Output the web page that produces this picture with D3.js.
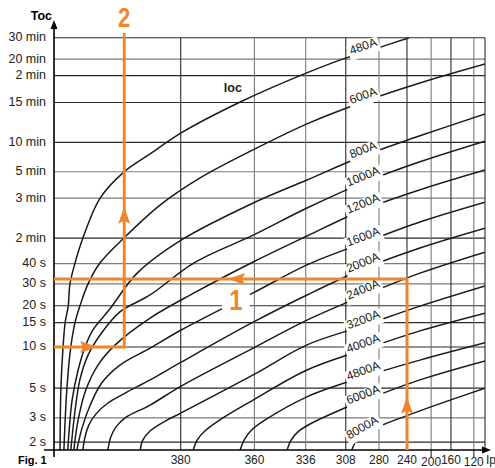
<!DOCTYPE html>
<html><head><meta charset="utf-8">
<script src="https://cdn.jsdelivr.net/npm/d3@7"></script>
<style>body{margin:0;background:#fff}svg{display:block;font-family:"Liberation Sans",Arial,Helvetica,sans-serif}</style>
</head><body>
<svg id="c" width="495" height="468"></svg>
<script>
// ---------- DATA (chart units: 0-100 on each axis) ----------
const yTickLabels = ["2 s","3 s","5 s","10 s","15 s","20 s","30 s","40 s","2 min","3 min","5 min","10 min","15 min","2 min","20 min","30 min"];
const yTickValues = [1.9,7.8,15.0,25.0,30.9,35.0,40.3,45.2,51.4,61.1,67.5,74.6,84.3,90.8,94.8,100];
const xTickLabels = ["380","360","336","308","280","240","200","160","120"];
const xTickValues = [29.4,46.5,58.4,67.7,75.4,81.9,87.5,92.1,97.4];
const curveLabels = ["480A","600A","800A","1000A","1200A","1600A","2000A","2400A","3200A","4000A","4800A","6000A","8000A"];
const c480  = [[1.4,0],[1.6,15.0],[2.1,25.0],[2.6,31.0],[3.3,34.9],[3.7,40.3],[4.9,45.4],[6.7,51.4],[10.7,61.1],[16.2,67.4],[22.3,71.8],[29.5,76.9],[43.2,84.4],[58.5,91.4],[67.8,95.1],[75.4,97.6],[82.4,100]];
const c600  = [[2.3,0],[3.0,15.0],[3.9,25.0],[4.9,31.0],[6.0,34.9],[7.9,40.3],[10.7,45.4],[16.2,51.4],[24.6,59.4],[33.9,66.0],[46.2,72.8],[58.7,79.1],[71.7,84.4],[84.9,89.0],[100,93.6]];
const c800  = [[3.2,0],[4.2,12.1],[5.6,19.4],[7.2,25.0],[9.0,29.1],[12.8,34.0],[19.3,42.9],[29.5,50.9],[46.2,59.9],[58.7,65.5],[71.7,71.3],[84.9,76.2],[100,81.5]];
const c1000 = [[3.9,0],[4.9,9.7],[6.0,17.0],[7.9,23.0],[10.7,27.9],[15.3,33.5],[22.3,37.6],[32.5,45.4],[46.2,52.1],[58.7,58.7],[71.7,64.8],[84.9,69.9],[100,74.9]];
const c1200 = [[4.6,0],[5.6,7.3],[7.4,14.6],[10.2,20.6],[14.2,25.5],[22.3,32.0],[32.5,38.1],[46.2,45.6],[58.7,51.9],[71.7,58.2],[84.9,63.1],[100,67.9]];
const c1600 = [[5.3,0],[6.5,5.3],[8.4,10.9],[11.1,16.3],[15.3,20.6],[22.3,24.7],[29.5,29.1],[46.2,38.1],[58.7,44.9],[71.7,50.2],[84.9,55.3],[100,60.1]];
const c2000 = [[6.7,0],[7.2,3.2],[8.1,6.1],[9.7,8.7],[12.5,11.4],[16.5,13.8],[22.3,17.0],[29.5,21.3],[46.2,31.0],[58.7,37.6],[71.7,43.9],[84.9,49.0],[100,53.8]];
const c2400 = [[12.5,0],[13.2,3.2],[14.4,5.6],[16.5,7.8],[22.3,10.9],[29.5,15.5],[46.2,24.7],[58.7,31.5],[71.7,37.4],[84.9,42.9],[100,48.0]];
const c3200 = [[20.0,0],[20.6,2.4],[22.3,4.6],[25.8,7.0],[29.5,9.0],[46.2,18.2],[58.7,25.5],[71.7,30.1],[84.9,34.9],[100,39.8]];
const c4000 = [[32.3,0],[33.2,2.4],[35.0,4.6],[38.5,7.3],[46.2,12.1],[58.7,19.4],[71.7,24.3],[84.9,28.9],[100,33.2]];
const c4800 = [[43.2,0],[44.1,2.4],[45.9,4.9],[49.0,7.3],[58.7,12.9],[71.7,17.7],[84.9,21.8],[100,26.0]];
const c6000 = [[54.1,0],[55.0,2.4],[56.6,4.4],[59.4,6.3],[66.4,9.7],[71.7,11.9],[84.9,17.0],[100,21.6]];
const c8000 = [[69.1,0],[70.1,2.2],[71.7,3.9],[76.3,6.1],[84.9,9.5],[91.9,12.1],[100,15.0]];
const curves = [c480,c600,c800,c1000,c1200,c1600,c2000,c2400,c3200,c4000,c4800,c6000,c8000];
// orange reading paths
const path1 = [[81.9,0],[81.9,41.5],[0,41.5]];
const path2 = [[0,25.0],[16.3,25.0],[16.3,101.9]];
const arrows = [{p:[81.9,12.9],dir:"up"},{p:[40.4,41.5],dir:"left"},{p:[10.0,25.0],dir:"right"},{p:[16.3,59.0],dir:"up"}];

// ---------- DRAWING ----------
const svg = d3.select("#c");
const x = d3.scaleLinear().domain([0,100]).range([54,485]);
const y = d3.scaleLinear().domain([0,100]).range([450,37.7]);
const ORANGE = "#f0862c";
const grayY = new Set(["20 min","3 min","5 min","40 s","30 s","3 s"]);
const grayX = new Set(["360","336","280","200","120"]);

svg.append("defs").append("clipPath").attr("id","plot").append("rect")
  .attr("x",x(0)).attr("y",y(100)).attr("width",x(100)-x(0)).attr("height",y(0)-y(100));

// grid
const grid = svg.append("g").attr("stroke-width",1.1);
grid.selectAll("line.h").data(yTickValues).join("line").attr("class","h")
  .attr("stroke",(d,i)=>grayY.has(yTickLabels[i])?"#7a7a7a":"#2a2a2a")
  .attr("x1",x(0)).attr("x2",x(100)).attr("y1",d=>y(d)).attr("y2",d=>y(d));
grid.selectAll("line.v").data(xTickValues.concat([100])).join("line").attr("class","v")
  .attr("stroke",(d,i)=>grayX.has(xTickLabels[i])?"#7a7a7a":"#2a2a2a")
  .attr("x1",d=>x(d)).attr("x2",d=>x(d)).attr("y1",y(100)).attr("y2",y(0));
const lowered = new Set(["200","120"]);
grid.selectAll("line.t").data(xTickValues.filter((d,i)=>lowered.has(xTickLabels[i]))).join("line").attr("class","t")
  .attr("stroke","#2a2a2a")
  .attr("x1",d=>x(d)).attr("x2",d=>x(d)).attr("y1",y(0)).attr("y2",y(0)+7);

// curves
const line = d3.line().x(d=>x(d[0])).y(d=>y(d[1])).curve(d3.curveCatmullRom.alpha(0.5));
const gc = svg.append("g").attr("clip-path","url(#plot)");
const paths = curves.map(c => gc.append("path").datum(c).attr("d",line)
  .attr("fill","none").attr("stroke","#1a1a1a").attr("stroke-width",1.5).node());

// curve labels
const labelAt = x(72.2);
const gl = svg.append("g");
paths.forEach((node,i)=>{
  const L = node.getTotalLength();
  let lo=0, hi=L;
  for(let k=0;k<40;k++){const m=(lo+hi)/2; if(node.getPointAtLength(m).x<labelAt) lo=m; else hi=m;}
  const p = node.getPointAtLength(lo);
  const a = node.getPointAtLength(Math.max(0,lo-6)), b = node.getPointAtLength(Math.min(L,lo+6));
  let ang = Math.atan2(b.y-a.y,b.x-a.x)*180/Math.PI;
  ang = Math.max(-30, Math.min(-20, ang));
  const g = gl.append("g").attr("transform",`translate(${p.x},${p.y}) rotate(${ang})`);
  const r = g.append("rect").attr("fill","#fff");
  const t = g.append("text").attr("text-anchor","middle").attr("y",-2)
    .attr("font-size",12).attr("fill","#1a1a1a").text(curveLabels[i]);
  const w = t.node().getComputedTextLength();
  r.attr("x",-w/2-2).attr("y",-11).attr("width",w+4).attr("height",15);
});

// axes
const ax = svg.append("g").attr("stroke","#000").attr("stroke-width",1.6);
ax.append("line").attr("x1",x(0)).attr("x2",x(0)).attr("y1",y(0)+7).attr("y2",24);
ax.append("line").attr("x1",x(0)-10).attr("x2",x(100)+2).attr("y1",y(0)).attr("y2",y(0));
svg.append("path").attr("d",`M${x(0)},20 L${x(0)-3.5},29 L${x(0)+3.5},29 Z`).attr("fill","#000");
svg.append("path").attr("d",`M${x(100)+6},${y(0)} L${x(100)-3},${y(0)-3.5} L${x(100)-3},${y(0)+3.5} Z`).attr("fill","#000");

// y tick labels
svg.append("g").selectAll("text").data(yTickValues).join("text")
  .attr("x",x(0)-8).attr("y",d=>y(d)+3.5).attr("text-anchor","end")
  .attr("font-size",12.5).attr("fill","#222").text((d,i)=>yTickLabels[i]);
// x tick labels
svg.append("g").selectAll("text").data(xTickValues).join("text")
  .attr("x",d=>x(d)).attr("y",(d,i)=>lowered.has(xTickLabels[i])?y(0)+15.5:y(0)+13.5)
  .attr("text-anchor","middle").attr("font-size",12).attr("fill","#222").text((d,i)=>xTickLabels[i]);

svg.append("text").attr("x",52).attr("y",20).attr("text-anchor","end").attr("font-size",12.5)
  .attr("font-weight","bold").text("Toc");
svg.append("text").attr("x",486).attr("y",464).attr("font-size",12).attr("fill","#222").text("Ip");
svg.append("text").attr("x",18).attr("y",464).attr("font-size",11).attr("font-weight","bold").text("Fig. 1");
svg.append("text").attr("x",x(41.5)).attr("y",y(86.8)).attr("text-anchor","middle").attr("font-size",12.5)
  .attr("font-weight","bold").attr("fill","#222").text("loc");

// orange reading lines
const ol = d3.line().x(d=>x(d[0])).y(d=>y(d[1]));
[path1,path2].forEach(p=>svg.append("path").attr("d",ol(p)).attr("fill","none")
  .attr("stroke",ORANGE).attr("stroke-width",3).attr("stroke-linejoin","miter"));
const rot = {up:0,right:90,down:180,left:-90};
arrows.forEach(a=>{
  svg.append("path").attr("d","M0,0 L-6,17 L0,14 L6,17 Z").attr("fill",ORANGE)
    .attr("transform",`translate(${x(a.p[0])},${y(a.p[1])}) rotate(${rot[a.dir]})`);
});
// big step numbers
function stepNum(txt, ux, uy, fs){
  const g = svg.append("g").attr("transform",`translate(${x(ux)},${y(uy)})`);
  g.append("rect").attr("x",-14).attr("y",-24).attr("width",28).attr("height",30).attr("fill","#fff");
  g.append("text").attr("text-anchor","middle").attr("font-size",fs).attr("font-weight","bold")
    .attr("fill",ORANGE).attr("transform","scale(0.82,1)").text(txt);
}
stepNum("1", 42.2, 34.0, 29);
stepNum("2", 16.3, 102.6, 27);
</script>
</body></html>
